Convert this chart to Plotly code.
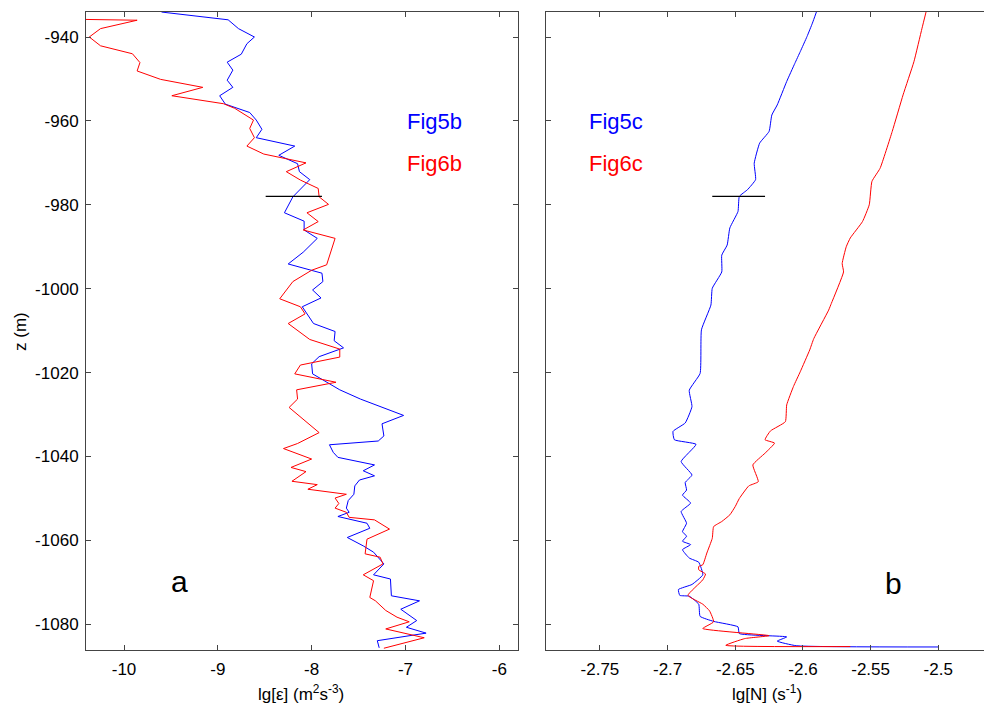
import plotly.graph_objects as go
from plotly.subplots import make_subplots

# ---------------- data ----------------
# Panel a: lg[epsilon] profiles
z_5b = [-934.05, -935.9, -938, -940, -941.6, -944.1, -946, -947.9, -950.3, -952, -954, -956, -958, -959.8,
        -962, -964, -966, -968.2, -970.2, -972.1, -974, -976, -978.1, -981.9, -983.9, -986, -988, -991.3,
        -994.1, -996.3, -998.3, -1000.3, -1002.2, -1004.3, -1008.3, -1010.2, -1012.4, -1014.1, -1016.2,
        -1017.9, -1020.3, -1024.1, -1026.3, -1030.2, -1032.2, -1035.1, -1036.3, -1037.2, -1039.0, -1040.2,
        -1042.0, -1043.4, -1044.6, -1045.6, -1047.0, -1049.0, -1050.5, -1052.3, -1053.3, -1054.3, -1055.9,
        -1057.1, -1059.3, -1061.3, -1062.8, -1065.6, -1068.2, -1069.2, -1073.2, -1074.4, -1076.4, -1079.1,
        -1080.7, -1082.1, -1083.9, -1085.6]
eps_5b = [-9.60, -8.89, -8.78, -8.61, -8.69, -8.75, -8.90, -8.84, -8.90, -8.84, -8.98, -8.92, -8.66, -8.59,
          -8.53, -8.59, -8.18, -8.35, -8.15, -8.13, -8.02, -8.11, -8.20, -8.29, -8.08, -8.08, -7.94, -8.09,
          -8.25, -7.89, -7.88, -7.99, -7.90, -8.10, -7.98, -7.75, -7.76, -7.66, -7.92,
          -8.00, -7.99, -7.70, -7.48, -7.02, -7.25, -7.23, -7.29, -7.81, -7.77, -7.72,
          -7.33, -7.45, -7.33, -7.49, -7.54, -7.55, -7.61, -7.63, -7.60, -7.72, -7.41,
          -7.38, -7.62, -7.45, -7.34, -7.23, -7.34, -7.16, -7.15, -6.85, -7.05, -6.88,
          -6.99, -6.78, -7.30, -7.28]

z_6b = [-935.8, -936.0, -938, -940, -942.1, -944, -946.1, -948.1, -950.1, -952, -954, -955.9, -957, -959.8,
        -961.8, -964, -966, -967.9, -970, -972.1, -974.1, -976.1, -978.1, -979.9, -981.9, -984, -986, -988,
        -994.3, -995.6, -998.3, -1002.4, -1004.3, -1006.0, -1008.3, -1012.1, -1014.4, -1016.3, -1018.2,
        -1020.3, -1022.3, -1024.1, -1026.3, -1028.3, -1034.3, -1036.9, -1038.1, -1040.6, -1042.6, -1043.6,
        -1045.9, -1046.7, -1047.8, -1049.0, -1049.9, -1051.2, -1052.3, -1053.3, -1054.5, -1055.1, -1057.3,
        -1059.7, -1063.2, -1064.0, -1065.6, -1068.2, -1069.6, -1073.6, -1074.4, -1076.7, -1078.3, -1079.4,
        -1081.1, -1083.2, -1085.7]
eps_6b = [-10.45, -9.86, -10.25, -10.37, -10.25, -9.91, -9.83, -9.86, -9.61, -9.16, -9.49, -8.94, -8.82, -8.62,
          -8.66, -8.61, -8.69, -8.51, -8.06, -8.27, -8.12, -7.93, -7.92, -7.82, -8.05, -7.93, -8.09, -7.75,
          -7.84, -8.00, -8.20, -8.34, -8.12, -8.07, -8.25, -8.02, -7.70, -7.70, -8.12,
          -8.18, -7.74, -8.16, -8.15, -8.24, -7.92, -8.15, -8.30, -8.00, -8.22, -8.06,
          -8.21, -7.94, -8.04, -7.63, -7.75, -7.71, -7.75, -7.63, -7.60, -7.33, -7.17,
          -7.41, -7.43, -7.27, -7.24, -7.45, -7.34, -7.38, -7.32, -7.21, -7.09, -6.96,
          -7.21, -6.80, -7.23]

# Panel b: lg[N] profiles
z_5c = [-934.0, -936.7, -939.9, -943.5, -946.3, -950.6, -956.2, -958.6, -962.5, -965.3, -970.1, -974.0,
        -976.4, -978.0, -981.6, -985.5, -989.6, -992.0, -996.0, -999.9, -1003.9, -1009.8, -1020.2, -1024.2,
        -1028.1, -1032.0, -1034.0, -1036.0, -1037.1, -1041.2, -1044.4, -1046.2, -1048.0, -1049.2, -1051.1,
        -1053.1, -1055.9, -1057.9, -1059.0, -1060.2, -1061.0, -1062.2, -1064.2, -1065.2, -1068.2, -1070.5,
        -1071.7, -1073.1, -1073.3, -1075.2, -1078.1, -1079.3, -1080.6, -1082.2, -1083.0, -1084.0, -1085.1,
        -1085.4]
n_5c = [-2.590, -2.593, -2.597, -2.602, -2.606, -2.612, -2.619, -2.623, -2.625, -2.632, -2.636, -2.635,
        -2.641, -2.647, -2.648, -2.654, -2.656, -2.660, -2.660, -2.667, -2.668, -2.675, -2.676, -2.684,
        -2.682, -2.687, -2.696, -2.695, -2.679, -2.690, -2.682, -2.687, -2.686, -2.689, -2.683,
        -2.690, -2.686, -2.689, -2.686, -2.689, -2.683, -2.689, -2.684, -2.677, -2.674, -2.682,
        -2.692, -2.691, -2.684, -2.677, -2.676, -2.666, -2.648, -2.647, -2.612, -2.619, -2.605,
        -2.500]

z_6c = [-934.0, -937.9, -945.9, -953.8, -962.5, -971.3, -974.4, -980.0, -984.0, -987.9, -990.0, -994.0,
        -996.0, -1003.5, -1005.1, -1011.9, -1014.6, -1019.8, -1023.3, -1027.7, -1031.7, -1033.9, -1036.0,
        -1036.8, -1039.2, -1042.0, -1046.0, -1047.0, -1050.0, -1051.9, -1053.9, -1055.5, -1056.7, -1059.5,
        -1063.0, -1065.8, -1066.2, -1067.0, -1068.0, -1069.4, -1073.1, -1075.2, -1076.8, -1079.4, -1081.0,
        -1082.7, -1083.4, -1085.0, -1085.3]
n_6c = [-2.509, -2.512, -2.518, -2.526, -2.534, -2.543, -2.549, -2.551, -2.556, -2.565, -2.568, -2.571,
        -2.570, -2.579, -2.581, -2.592, -2.595, -2.602, -2.607, -2.612, -2.613, -2.624, -2.628,
        -2.621, -2.628, -2.637, -2.633, -2.640, -2.647, -2.650, -2.654, -2.660, -2.666, -2.667,
        -2.671, -2.674, -2.677, -2.677, -2.672, -2.674, -2.685, -2.674, -2.669, -2.666, -2.674,
        -2.625, -2.643, -2.657, -2.565]

# reference depth markers
mark_z = -978.0
mark_eps = [-8.49, -7.89]
mark_n = [-2.667, -2.628]

# ticks
z_ticks = [-940, -960, -980, -1000, -1020, -1040, -1060, -1080]
eps_ticks = [-10, -9, -8, -7, -6]
n_ticks = [-2.75, -2.7, -2.65, -2.6, -2.55, -2.5]

BLUE = "#0000ff"
RED = "#ff0000"
FONT = "Arial, 'Liberation Sans', sans-serif"

fig = make_subplots(rows=1, cols=2, shared_yaxes=False)

fig.add_trace(go.Scatter(x=eps_5b, y=z_5b, mode="lines", line=dict(color=BLUE, width=1)), 1, 1)
fig.add_trace(go.Scatter(x=eps_6b, y=z_6b, mode="lines", line=dict(color=RED, width=1)), 1, 1)
fig.add_trace(go.Scatter(x=mark_eps, y=[mark_z, mark_z], mode="lines", line=dict(color="black", width=1.2)), 1, 1)

fig.add_trace(go.Scatter(x=n_5c, y=z_5c, mode="lines", line=dict(color=BLUE, width=1, shape="spline", smoothing=0.4)), 1, 2)
fig.add_trace(go.Scatter(x=n_6c, y=z_6c, mode="lines", line=dict(color=RED, width=1, shape="spline", smoothing=0.4)), 1, 2)
fig.add_trace(go.Scatter(x=mark_n, y=[mark_z, mark_z], mode="lines", line=dict(color="black", width=1.2)), 1, 2)

axis_common = dict(showgrid=False, zeroline=False, showline=True, linecolor="#444444", linewidth=1,
                   ticks="inside", ticklen=5, tickcolor="#444444", tickwidth=1, automargin=False,
                   tickfont=dict(family=FONT, size=17, color="black"))

fig.update_xaxes(domain=[0.0, 0.4807], range=[-10.405, -5.804], tickvals=eps_ticks,
                 ticktext=[str(v) for v in eps_ticks], mirror="ticks", ticklabelstandoff=4,
                 row=1, col=1, **axis_common)
fig.update_xaxes(domain=[0.5122, 1.0], range=[-2.7899, -2.4662], tickvals=n_ticks,
                 ticktext=[f"{v:g}" for v in n_ticks], mirror="ticks", ticklabelstandoff=4,
                 row=1, col=2, **axis_common)
fig.update_yaxes(range=[-1086.12, -934.04], tickvals=z_ticks, ticktext=[str(v) for v in z_ticks],
                 mirror="ticks", ticklabelstandoff=3,
                 row=1, col=1, **axis_common)
fig.update_yaxes(range=[-1086.12, -934.04], tickvals=z_ticks, showticklabels=False, mirror=False,
                 row=1, col=2, **axis_common)

ann = []
def label(text, x, y, xref, yref, color, size, textangle=0):
    ann.append(dict(text=text, x=x, y=y, xref=xref, yref=yref, showarrow=False, textangle=textangle,
                    font=dict(family=FONT, size=size, color=color), xanchor="center", yanchor="middle"))

label("Fig5b", -6.69, -960.1, "x", "y", BLUE, 22)
label("Fig6b", -6.69, -970.1, "x", "y", RED, 22)
label("Fig5c", -2.738, -960.1, "x2", "y2", BLUE, 22)
label("Fig6c", -2.738, -970.1, "x2", "y2", RED, 22)
label("a", -9.41, -1069.8, "x", "y", "black", 30)
label("b", -2.533, -1070.2, "x2", "y2", "black", 30)

# axis titles (paper coordinates, below / beside the panels)
label("lg[ε] (m<sup>2</sup>s<sup>-3</sup>)", 0.2389, -0.0675, "paper", "paper", "black", 17)
label("lg[N] (s<sup>-1</sup>)", 0.7589, -0.0675, "paper", "paper", "black", 17)
label("z (m)", -0.0735, 0.5, "paper", "paper", "black", 17, textangle=-90)

fig.update_layout(width=984, height=709, margin=dict(l=86, r=0, t=12, b=59),
                  plot_bgcolor="white", paper_bgcolor="white", showlegend=False,
                  annotations=ann, font=dict(family=FONT, color="black"))

fig.write_html("out.html", config={"displayModeBar": False},
               post_script="document.body.style.margin='0';document.body.style.overflow='hidden';")
